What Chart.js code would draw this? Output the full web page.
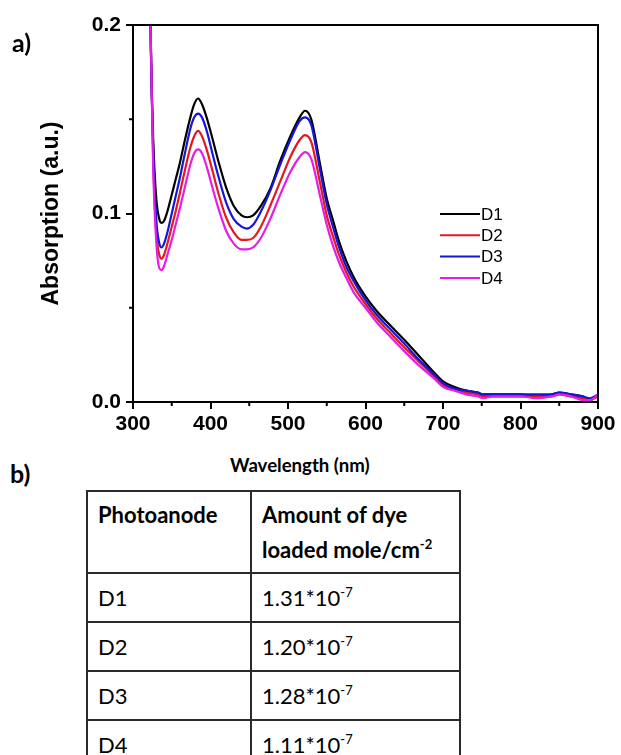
<!DOCTYPE html>
<html lang="en">
<head>
<meta charset="UTF-8">
<title>Absorption spectra D1-D4</title>
<script src="https://cdn.jsdelivr.net/npm/chart.js"></script>
<style>
    body { margin: 0; background: #fff; width: 621px; height: 755px; overflow: hidden; position: relative; }
    #chart { position: absolute; left: 0; top: 0; }
    .panel { position: absolute; font-family: Lato, "Open Sans", sans-serif; font-weight: bold; font-size: 25px; color: #000; }
    #xtitle { position: absolute; left: 230px; top: 454px; font-family: Lato, "Open Sans", sans-serif; font-weight: bold; font-size: 18.6px; color: #000; }
    #dye-table { position: absolute; left: 86px; top: 490px; border-collapse: collapse; font-family: Lato, "Open Sans", sans-serif; font-size: 22px; color: #000; }
    #dye-table th, #dye-table td { border: 2px solid #2a2a2a; text-align: left; padding: 0 0 0 10px; line-height: 35px; }
    #dye-table th { font-weight: bold; vertical-align: top; height: 82px; padding-top: 5px; box-sizing: border-box; }
    #dye-table td { height: 47px; vertical-align: middle; }
    #dye-table sup { font-size: 13px; line-height: 0; vertical-align: 9px; }
</style>
</head>
<body>
    <canvas id="chart" width="621" height="450"></canvas>
    <div class="panel" style="left:12px; top:27px;">a)</div>
    <div class="panel" style="left:10px; top:458px;">b)</div>
    <div id="xtitle">Wavelength (nm)</div>
    <table id="dye-table">
        <thead>
            <tr>
                <th style="width:164px;">Photoanode</th>
                <th style="width:209px;">Amount of dye<br>loaded mole/cm<sup>-2</sup></th>
            </tr>
        </thead>
        <tbody id="dye-rows"></tbody>
    </table>

<script>
// wavelength (nm) shared by all spectra
const wavelengths = [320, 323, 326, 330, 334, 337, 340, 345, 350, 355, 360, 367, 374, 379, 384, 389, 395, 403, 410, 420,
    430, 440, 447, 455, 465, 477, 490, 503, 515, 522, 530, 541, 550, 558, 566, 575, 585, 600, 615, 630,
    650, 670, 690, 700, 715, 730, 745, 752, 765, 780, 800, 820, 840, 850, 865, 880, 890, 900];

const d1 = [0.30, 0.19, 0.14, 0.108, 0.097, 0.095, 0.096, 0.102, 0.110, 0.118, 0.126, 0.139, 0.151, 0.158, 0.161, 0.158, 0.151, 0.139, 0.128, 0.114,
    0.104, 0.099, 0.098, 0.099, 0.104, 0.113, 0.128, 0.141, 0.151, 0.1545, 0.150, 0.127, 0.108, 0.0965, 0.085, 0.075, 0.066, 0.056, 0.048, 0.0415,
    0.033, 0.024, 0.015, 0.011, 0.008, 0.006, 0.005, 0.004, 0.004, 0.004, 0.004, 0.003, 0.004, 0.005, 0.004, 0.003, 0.001, 0.004];

const d2 = [0.30, 0.19, 0.13, 0.090, 0.078, 0.076, 0.078, 0.085, 0.093, 0.101, 0.110, 0.123, 0.135, 0.141, 0.1438, 0.141, 0.134, 0.122, 0.111, 0.098,
    0.090, 0.086, 0.086, 0.087, 0.093, 0.104, 0.117, 0.130, 0.139, 0.1416, 0.138, 0.117, 0.099, 0.088, 0.078, 0.069, 0.061, 0.052, 0.044, 0.0375,
    0.029, 0.021, 0.013, 0.009, 0.007, 0.005, 0.004, 0.003, 0.003, 0.003, 0.003, 0.003, 0.003, 0.004, 0.003, 0.002, 0.001, 0.003];

const d3 = [0.30, 0.19, 0.135, 0.097, 0.084, 0.082, 0.084, 0.091, 0.100, 0.109, 0.118, 0.132, 0.145, 0.151, 0.153, 0.151, 0.144, 0.131, 0.120, 0.106,
    0.097, 0.093, 0.092, 0.094, 0.101, 0.112, 0.126, 0.139, 0.149, 0.151, 0.147, 0.124, 0.105, 0.093, 0.082, 0.072, 0.064, 0.054, 0.046, 0.0395,
    0.031, 0.022, 0.014, 0.010, 0.007, 0.006, 0.005, 0.004, 0.004, 0.004, 0.004, 0.004, 0.004, 0.005, 0.004, 0.003, 0.002, 0.004];

const d4 = [0.30, 0.19, 0.125, 0.085, 0.071, 0.070, 0.072, 0.079, 0.086, 0.094, 0.102, 0.114, 0.126, 0.132, 0.134, 0.132, 0.125, 0.113, 0.103, 0.091,
    0.084, 0.081, 0.081, 0.082, 0.087, 0.097, 0.110, 0.122, 0.130, 0.1326, 0.129, 0.110, 0.094, 0.083, 0.074, 0.066, 0.058, 0.050, 0.042, 0.0355,
    0.027, 0.019, 0.012, 0.008, 0.006, 0.004, 0.003, 0.002, 0.003, 0.003, 0.003, 0.002, 0.003, 0.004, 0.003, 0.001, 0.001, 0.004];

const seriesLabels = ["D1", "D2", "D3", "D4"];
const seriesColors = ["#000000", "#e3191e", "#1616d8", "#e51de5"];

// table b)
const photoanodes = ["D1", "D2", "D3", "D4"];
const dyeMantissa = ["1.31", "1.20", "1.28", "1.11"];
const dyeExponent = ["-7", "-7", "-7", "-7"];

const rows = document.getElementById("dye-rows");
photoanodes.forEach((p, i) => {
    const tr = document.createElement("tr");
    tr.innerHTML = `<td>${p}</td><td>${dyeMantissa[i]}*10<sup>${dyeExponent[i]}</sup></td>`;
    rows.appendChild(tr);
});

const allSeries = [d1, d2, d3, d4];
const datasets = allSeries.map((vals, i) => ({
    label: seriesLabels[i],
    data: wavelengths.map((w, j) => ({ x: w, y: vals[j] })),
    borderColor: seriesColors[i],
    borderWidth: 2.2,
    pointRadius: 0,
    cubicInterpolationMode: "monotone",
    order: 4 - i
}));

// frame, minor ticks and the small legend inside the plot
const framePlugin = {
    id: "frame",
    afterDraw(chart) {
        const { ctx, chartArea: a, scales } = chart;
        ctx.save();
        ctx.strokeStyle = "#000";
        ctx.lineWidth = 2;
        ctx.beginPath();
        ctx.moveTo(a.left, a.top);
        ctx.lineTo(a.right, a.top);
        ctx.lineTo(a.right, a.bottom);
        ctx.stroke();

        // minor ticks
        ctx.beginPath();
        for (let v = 350; v < 900; v += 100) {
            const px = scales.x.getPixelForValue(v);
            ctx.moveTo(px, a.bottom);
            ctx.lineTo(px, a.bottom + 4);
        }
        [0.05, 0.15].forEach(v => {
            const py = scales.y.getPixelForValue(v);
            ctx.moveTo(a.left, py);
            ctx.lineTo(a.left - 4, py);
        });
        ctx.stroke();

        // legend
        ctx.font = "17px 'Liberation Sans', Arial";
        ctx.textBaseline = "middle";
        ctx.fillStyle = "#000";
        chart.data.datasets.forEach((ds, i) => {
            const y = 214 + i * 21.3;
            ctx.strokeStyle = ds.borderColor;
            ctx.beginPath();
            ctx.moveTo(440, y);
            ctx.lineTo(480, y);
            ctx.stroke();
            ctx.fillText(ds.label, 481, y + 1);
        });
        ctx.restore();
    }
};

new Chart(document.getElementById("chart"), {
    type: "line",
    data: { datasets: datasets },
    options: {
        responsive: false,
        animation: false,
        devicePixelRatio: 1,
        layout: { padding: { top: 25, right: 23, left: 0, bottom: 0 } },
        plugins: { legend: { display: false }, tooltip: { enabled: false } },
        scales: {
            x: {
                type: "linear",
                min: 300,
                max: 900,
                afterFit: s => { s.height = 48; },
                ticks: { stepSize: 100, color: "#000", padding: 3, maxRotation: 0,
                    font: { family: "'Liberation Sans', Arial", size: 21, weight: "bold" } },
                grid: { drawOnChartArea: false, color: "#000", lineWidth: 2, tickLength: 7 },
                border: { color: "#000", width: 2 }
            },
            y: {
                min: 0,
                max: 0.2,
                afterFit: s => { s.width = 133; },
                ticks: { stepSize: 0.1, color: "#000", padding: 5, callback: v => v.toFixed(1),
                    font: { family: "'Liberation Sans', Arial", size: 21, weight: "bold" } },
                grid: { drawOnChartArea: false, color: "#000", lineWidth: 2, tickLength: 7 },
                border: { color: "#000", width: 2 },
                title: { display: true, text: "Absorption (a.u.)", color: "#000", padding: { top: 38 },
                    font: { family: "'Liberation Sans', Arial", size: 23, weight: "bold" } }
            }
        }
    },
    plugins: [framePlugin]
});
</script>
</body>
</html>
